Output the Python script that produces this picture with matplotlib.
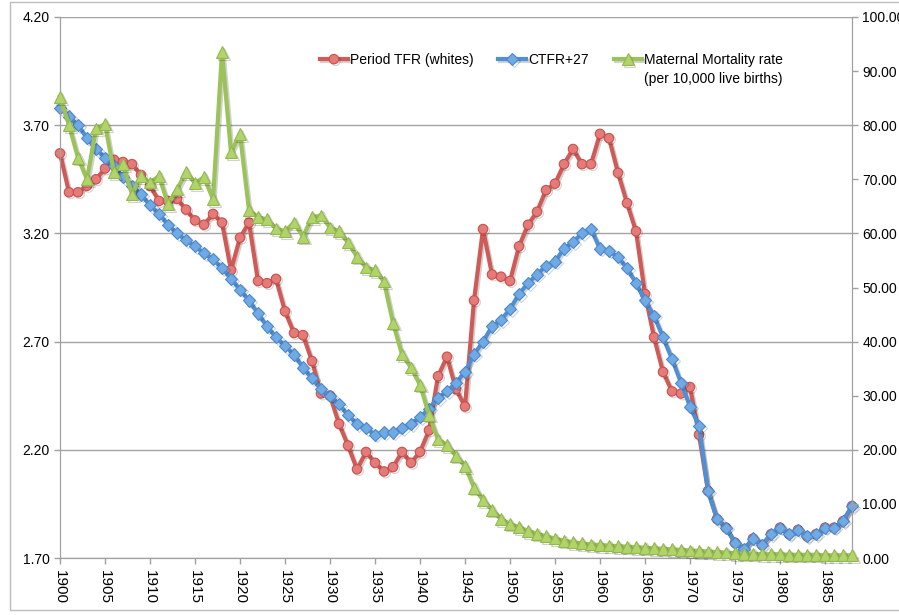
import numpy as np
import matplotlib
matplotlib.use("Agg")
import matplotlib.pyplot as plt
import matplotlib.patheffects as pe
from matplotlib.patches import Rectangle

plt.rcParams["font.family"] = ["Liberation Sans", "DejaVu Sans"]

# --- data ------------------------------------------------------------------
years = list(range(1900, 1989))

tfr_whites = [
    3.57, 3.39, 3.39, 3.42, 3.45, 3.50, 3.54, 3.53, 3.52, 3.47,   # 1900s
    3.42, 3.35, 3.35, 3.36, 3.31, 3.26, 3.24, 3.29, 3.25, 3.03,   # 1910s
    3.18, 3.25, 2.98, 2.97, 2.99, 2.84, 2.74, 2.73, 2.61, 2.46,   # 1920s
    2.45, 2.32, 2.22, 2.11, 2.19, 2.14, 2.10, 2.12, 2.19, 2.14,   # 1930s
    2.19, 2.29, 2.54, 2.63, 2.48, 2.40, 2.89, 3.22, 3.01, 3.00,   # 1940s
    2.98, 3.14, 3.24, 3.30, 3.40, 3.43, 3.52, 3.59, 3.52, 3.52,   # 1950s
    3.66, 3.64, 3.48, 3.34, 3.21, 2.92, 2.72, 2.56, 2.47, 2.46,   # 1960s
    2.49, 2.27, 2.01, 1.88, 1.84, 1.77, 1.74, 1.79, 1.76, 1.81,   # 1970s
    1.84, 1.81, 1.83, 1.80, 1.81, 1.84, 1.84, 1.87, 1.94,         # 1980s
]

ctfr_27 = [
    3.78, 3.74, 3.70, 3.64, 3.59, 3.55, 3.51, 3.46, 3.42, 3.38,
    3.33, 3.29, 3.24, 3.20, 3.17, 3.14, 3.11, 3.08, 3.04, 2.99,
    2.94, 2.89, 2.83, 2.77, 2.72, 2.68, 2.64, 2.58, 2.53, 2.48,
    2.45, 2.41, 2.36, 2.32, 2.30, 2.27, 2.28, 2.28, 2.30, 2.32,
    2.35, 2.39, 2.44, 2.47, 2.51, 2.56, 2.64, 2.70, 2.77, 2.80,
    2.85, 2.92, 2.97, 3.01, 3.05, 3.07, 3.13, 3.16, 3.20, 3.22,
    3.13, 3.12, 3.09, 3.04, 2.97, 2.89, 2.82, 2.72, 2.62, 2.51,
    2.40, 2.31, 2.01, 1.88, 1.84, 1.77, 1.74, 1.79, 1.76, 1.81,
    1.84, 1.81, 1.83, 1.80, 1.81, 1.84, 1.84, 1.87, 1.94,
]

maternal_mortality = [
    85.2, 80.0, 74.0, 70.0, 79.4, 80.2, 71.3, 72.8, 67.2, 70.6,
    69.4, 70.6, 65.4, 68.1, 71.3, 69.3, 70.4, 66.3, 93.5, 75.0,
    78.3, 64.3, 63.0, 62.6, 60.9, 60.4, 62.0, 59.4, 63.0, 63.3,
    61.1, 60.4, 58.3, 55.7, 53.7, 53.2, 51.1, 43.5, 37.6, 35.2,
    32.0, 26.5, 21.9, 20.9, 18.9, 17.0, 13.0, 10.7, 8.9, 7.2,
    6.3, 5.7, 5.0, 4.5, 4.0, 3.6, 3.2, 2.9, 2.7, 2.5,
    2.4, 2.3, 2.2, 2.1, 2.0, 1.9, 1.8, 1.7, 1.6, 1.5,
    1.4, 1.3, 1.2, 1.1, 1.0, 0.9, 0.8, 0.8, 0.7, 0.7,
    0.7, 0.6, 0.6, 0.6, 0.6, 0.5, 0.5, 0.5, 0.5,
]

left_ticks = [1.70, 2.20, 2.70, 3.20, 3.70, 4.20]
right_ticks = list(range(0, 101, 10))
year_ticks = list(range(1900, 1986, 5))

labels = ["Period TFR (whites)", "CTFR+27", "Maternal Mortality rate"]
label_extra = "(per 10,000 live births)"

# --- figure ------------------------------------------------------------------
W, H = 899, 615
fig = plt.figure(figsize=(W / 100, H / 100), dpi=100)
# light chart-area frame (right edge runs off the picture, as in the reference)
fig.patches.append(Rectangle((10 / W, 1 - 610 / H), 900 / W, 608 / H,
                             transform=fig.transFigure, fill=False,
                             edgecolor="#bdbdbd", lw=1.0))
ax = fig.add_axes([60 / W, 1 - 558 / H, 792 / W, 541 / H])
ax2 = ax.twinx()

shadow = [pe.SimpleLineShadow(offset=(1.2, -1.2), alpha=0.18), pe.Normal()]

l1, = ax.plot(years, tfr_whites, color="#cf5a56", lw=3, marker="o", ms=6.8,
              mfc="#e57b78", mec="#c9504c", mew=0.8, path_effects=shadow,
              clip_on=False, zorder=3)
l2, = ax.plot(years, ctfr_27, color="#4f8fd4", lw=3, marker="D", ms=6.2,
              mfc="#6faae4", mec="#4c88cc", mew=0.8, path_effects=shadow,
              clip_on=False, zorder=4)
l3, = ax2.plot(years, maternal_mortality, color="#9cc25a", lw=3, marker="^", ms=8.5,
               mfc="#b0d46a", mec="#93b84f", mew=0.8, path_effects=shadow,
               clip_on=False, zorder=5)

# green series sits on top, as in the reference
ax2.set_zorder(ax.get_zorder() + 1)
ax2.patch.set_visible(False)

ax.set_xlim(1900, 1988)
ax.set_ylim(1.70, 4.20)
ax2.set_ylim(0, 100)

ax.set_yticks(left_ticks)
ax.set_yticklabels([f"{v:.2f}" for v in left_ticks])
ax2.set_yticks(right_ticks)
ax2.set_yticklabels([f"{v:.2f}" for v in right_ticks])
ax.set_xticks(year_ticks)
ax.set_xticklabels([str(y) for y in year_ticks], rotation=-90)

ax.grid(axis="y", color="#a3a3a3", lw=1.0)
ax.set_axisbelow(True)
for a in (ax, ax2):
    for s in a.spines.values():
        s.set_color("#a0a0a0")
    a.spines["top"].set_visible(False)
    a.tick_params(colors="#a0a0a0", labelcolor="#000000", labelsize=10,
                  length=4, width=1)
ax.tick_params(axis="x", labelsize=11, pad=5)

leg = fig.legend([l1, l2, l3], labels, loc="upper left", ncol=3, frameon=False,
                 bbox_to_anchor=(320 / W, 1 - 53 / H), fontsize=10,
                 handlelength=2.0, handletextpad=0.15, columnspacing=1.8,
                 borderaxespad=0, borderpad=0)

# second line of the third legend label, aligned with its text
fig.canvas.draw()
bb = leg.get_texts()[2].get_window_extent()
fig.text(bb.x0 / W, 1 - 79 / H, label_extra, fontsize=10, va="center")

fig.savefig("out.png", dpi=100)
